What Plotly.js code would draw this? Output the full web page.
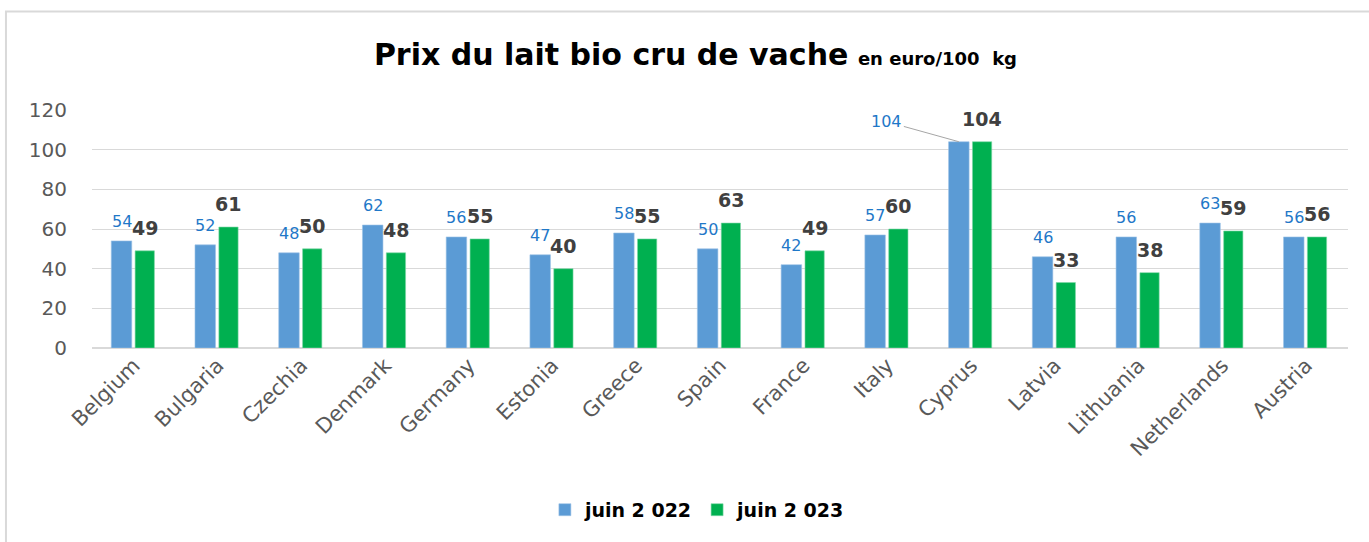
<!DOCTYPE html>
<html>
<head>
<meta charset="utf-8">
<script src="https://cdn.plot.ly/plotly-3.0.1.min.js"></script>
<style>html,body{margin:0;padding:0;background:#fff;}#chart{width:1369px;height:542px;}</style>
</head>
<body>
<div id="chart"></div>
<script>
const countries = ["Belgium","Bulgaria","Czechia","Denmark","Germany","Estonia","Greece","Spain","France","Italy","Cyprus","Latvia","Lithuania","Netherlands","Austria"];
const juin2022 = [54,52,48,62,56,47,58,50,42,57,104,46,56,63,56];
const juin2023 = [49,61,50,48,55,40,55,63,49,60,104,33,38,59,56];
const seriesNames = ["juin 2 022","juin 2 023"];
const yTicks = [0,20,40,60,80,100,120];

const idx = countries.map((c,i)=>i);
const BLUE = "#5B9BD5", GREEN = "#00B050";
const W1 = 0.245, W2 = 0.23, OFF1 = -0.27, OFF2 = 0.015;
const FONT = "'DejaVu Sans', sans-serif";

const traces = [
  {type:"bar", name:seriesNames[0], x:idx, y:juin2022, width:W1, offset:OFF1,
   marker:{color:BLUE, line:{color:"#9DC3E6", width:0.6}}, hoverinfo:"y"},
  {type:"bar", name:seriesNames[1], x:idx, y:juin2023, width:W2, offset:OFF2,
   marker:{color:GREEN, line:{color:"#7FD7A7", width:0.6}}, hoverinfo:"y"}
];

const annotations = [];
idx.forEach(i=>{
  const c1 = i + OFF1 + W1/2, c2 = i + OFF2 + W2/2;
  if (countries[i] === "Cyprus") {
    annotations.push({x:c1, y:juin2022[i], xref:"x", yref:"y", text:String(juin2022[i]),
      showarrow:true, arrowhead:0, arrowwidth:1, arrowcolor:"#A6A6A6", ax:-72, ay:-20,
      font:{family:FONT, size:16, color:"#1F78C8"}});
  } else {
    annotations.push({x:c1, y:juin2022[i], xref:"x", yref:"y", text:String(juin2022[i]),
      showarrow:false, yanchor:"bottom", yshift:8,
      font:{family:FONT, size:16, color:"#1F78C8"}});
  }
  annotations.push({x:c2, y:juin2023[i], xref:"x", yref:"y", text:"<b>"+juin2023[i]+"</b>",
    showarrow:false, yanchor:"bottom", yshift:10,
    font:{family:FONT, size:19, color:"#404040"}});
});

const layout = {
  width:1369, height:542,
  margin:{l:92, r:21, t:110, b:194},
  paper_bgcolor:"#fff", plot_bgcolor:"#fff",
  barmode:"overlay",
  showlegend:true,
  title:{text:"<b>Prix du lait bio cru de vache</b> <b><span style='font-size:18px'>en euro/100  kg</span></b>",
    font:{family:FONT, size:30, color:"#000"}, x:0.508, xref:"container", xanchor:"center",
    y:0.9, yref:"container", yanchor:"middle"},
  xaxis:{range:[-0.5,14.5], tickvals:idx, ticktext:countries, tickangle:-45,
    tickfont:{family:FONT, size:21, color:"#595959"}, showgrid:false, zeroline:false,
    showline:false, ticks:"", fixedrange:true},
  yaxis:{range:[0,120], tickvals:yTicks, showgrid:true, gridcolor:"#D9D9D9", gridwidth:1,
    zeroline:true, zerolinecolor:"#D9D9D9", zerolinewidth:1.5, showline:false, ticks:"",
    ticklabelstandoff:24, tickfont:{family:FONT, size:20, color:"#595959"}, fixedrange:true},
  legend:{orientation:"h", x:0.482, xanchor:"center", y:-0.68, yanchor:"middle",
    font:{family:FONT, size:19, color:"#000", weight:"bold"}, itemwidth:30, traceorder:"normal",
    bgcolor:"rgba(0,0,0,0)"},
  annotations:annotations,
  shapes:[{type:"rect", xref:"paper", yref:"paper", x0:-0.0685, x1:1.2, y0:-1.2, y1:1.414,
    line:{color:"#D9D9D9", width:2}, fillcolor:"rgba(0,0,0,0)", layer:"below"}]
};

Plotly.newPlot("chart", traces, layout, {displayModeBar:false, staticPlot:true});
</script>
</body>
</html>
